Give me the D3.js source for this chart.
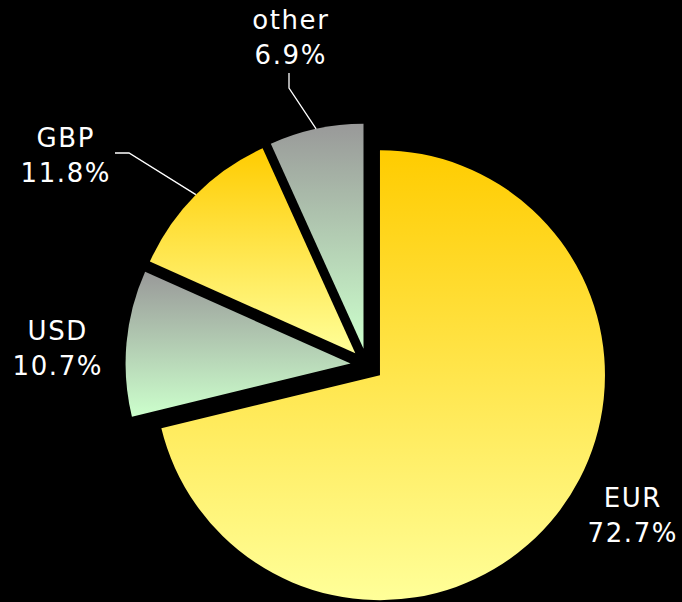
<!DOCTYPE html>
<html>
<head>
<meta charset="utf-8">
<script src="https://cdn.jsdelivr.net/npm/d3@7"></script>
<style>
  html, body { margin: 0; padding: 0; background: #000; }
  svg { display: block; }
</style>
</head>
<body>
<svg id="chart" width="682" height="602"></svg>
<script>
// Currency breakdown
const categories = ["EUR", "USD", "GBP", "other"];
const shares = [72.7, 10.7, 11.8, 6.9];
const shareLabels = ["72.7%", "10.7%", "11.8%", "6.9%"];
const gradientTop = ["#FFCC00", "#999999", "#FFCC00", "#999999"];
const gradientBottom = ["#FFFF99", "#CCFFCC", "#FFFF99", "#CCFFCC"];

// Layout
const W = 682, H = 602;
const cx = 367, cy = 365, R = 225, explode = 16.5;
const labelFont = 26, lineGap = 35, tracking = 1.6;
// label anchor (centre x, first baseline y) and leader elbow points
const labelLayout = {
  EUR:   { x: 632, y: 507, leader: null },
  USD:   { x: 57,  y: 340, leader: null },
  GBP:   { x: 65,  y: 147, leader: [[115, 153], [129, 153]] },
  other: { x: 290, y: 29,  leader: [[289, 73], [289, 88]] }
};

const svg = d3.select("#chart");
svg.append("rect").attr("width", W).attr("height", H).attr("fill", "#000");

const defs = svg.append("defs");
categories.forEach((c, i) => {
  const g = defs.append("linearGradient")
    .attr("id", "grad-" + i)
    .attr("x1", 0).attr("y1", 0).attr("x2", 0).attr("y2", 1);
  g.append("stop").attr("offset", "0%").attr("stop-color", gradientTop[i]);
  g.append("stop").attr("offset", "100%").attr("stop-color", gradientBottom[i]);
});

const pie = d3.pie().sort(null).value(d => d);
const arcs = pie(shares);
const arc = d3.arc().innerRadius(0).outerRadius(R);

const mid = d => (d.startAngle + d.endAngle) / 2;
const offset = d => [explode * Math.sin(mid(d)), -explode * Math.cos(mid(d))];

const root = svg.append("g").attr("transform", `translate(${cx},${cy})`);

root.selectAll("path.slice")
  .data(arcs)
  .enter().append("path")
  .attr("class", "slice")
  .attr("transform", d => { const o = offset(d); return `translate(${o[0]},${o[1]})`; })
  .attr("d", arc)
  .attr("fill", (d, i) => `url(#grad-${i})`);

// leader lines from the slice rim to its label
arcs.forEach((d, i) => {
  const lay = labelLayout[categories[i]];
  if (!lay.leader) return;
  const o = offset(d);
  const a = mid(d);
  const rim = [cx + o[0] + R * Math.sin(a), cy + o[1] - R * Math.cos(a)];
  const pts = lay.leader.concat([rim]);
  svg.append("path")
    .attr("d", d3.line()(pts))
    .attr("fill", "none")
    .attr("stroke", "#fff")
    .attr("stroke-width", 1.3);
});

// labels
categories.forEach((c, i) => {
  const lay = labelLayout[c];
  const t = svg.append("text")
    .attr("text-anchor", "middle")
    .attr("fill", "#fff")
    .attr("font-family", "'DejaVu Sans', Verdana, sans-serif")
    .attr("font-size", labelFont)
    .attr("letter-spacing", tracking);
  t.append("tspan").attr("x", lay.x + tracking / 2).attr("y", lay.y).text(c);
  t.append("tspan").attr("x", lay.x + tracking / 2).attr("y", lay.y + lineGap).text(shareLabels[i]);
});
</script>
</body>
</html>
